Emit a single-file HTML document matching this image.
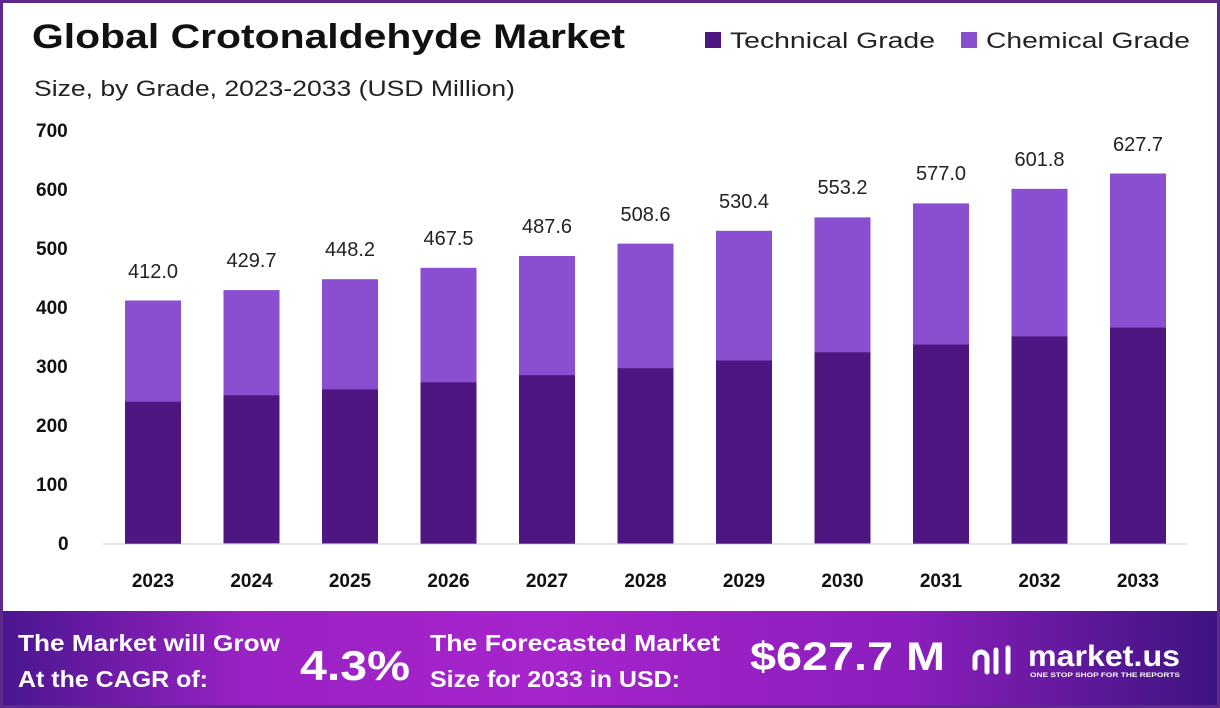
<!DOCTYPE html>
<html><head><meta charset="utf-8"><style>
html,body{margin:0;padding:0;background:#fff}
svg{display:block}
text{font-family:"Liberation Sans",sans-serif}
</style></head><body>
<svg width="1220" height="708" viewBox="0 0 1220 708" xmlns="http://www.w3.org/2000/svg">
<defs>
<linearGradient id="bg" x1="0" x2="1" y1="0" y2="0">
<stop offset="0" stop-color="#4a1690"/>
<stop offset="0.2" stop-color="#9a22c4"/>
<stop offset="0.45" stop-color="#a624cc"/>
<stop offset="0.75" stop-color="#8a1ebc"/>
<stop offset="1" stop-color="#3e1480"/>
</linearGradient>
</defs>
<rect x="1.5" y="1.5" width="1217" height="705" fill="#fff" stroke="#5b2a8c" stroke-width="3"/>
<text x="32" y="48" font-size="34" font-weight="bold" fill="#111" textLength="593" lengthAdjust="spacingAndGlyphs">Global Crotonaldehyde Market</text>
<text x="34" y="96" font-size="22" fill="#222" textLength="481" lengthAdjust="spacingAndGlyphs">Size, by Grade, 2023-2033 (USD Million)</text>
<rect x="705" y="32" width="16" height="16" fill="#4e1680"/>
<text x="730" y="48" font-size="22" fill="#222" textLength="205" lengthAdjust="spacingAndGlyphs">Technical Grade</text>
<rect x="961" y="32" width="16" height="16" fill="#8a4ed0"/>
<text x="986" y="48" font-size="22" fill="#222" textLength="204" lengthAdjust="spacingAndGlyphs">Chemical Grade</text>
<g font-size="19" font-weight="bold" fill="#111">
<text x="36" y="137">700</text><text x="36" y="196">600</text><text x="36" y="255">500</text>
<text x="36" y="314">400</text><text x="36" y="373">300</text><text x="36" y="432">200</text>
<text x="36" y="491">100</text><text x="58" y="550">0</text>
</g>
<line x1="103" y1="544" x2="1187" y2="544" stroke="#ccc" stroke-width="1"/>
<g fill="#8a4ed0">
<rect x="125" y="300.5" width="56" height="243"/>
<rect x="223.5" y="290.1" width="56" height="253"/>
<rect x="322" y="279.2" width="56" height="264"/>
<rect x="420.5" y="267.8" width="56" height="276"/>
<rect x="519" y="256" width="56" height="288"/>
<rect x="617.5" y="243.6" width="56" height="300"/>
<rect x="716" y="230.8" width="56" height="313"/>
<rect x="814.5" y="217.4" width="56" height="326"/>
<rect x="913" y="203.4" width="56" height="340"/>
<rect x="1011.5" y="188.8" width="56" height="355"/>
<rect x="1110" y="173.5" width="56" height="370"/>
</g>
<g fill="#4e1680">
<rect x="125" y="401.7" width="56" height="142"/>
<rect x="223.5" y="395.3" width="56" height="148"/>
<rect x="322" y="389.4" width="56" height="154"/>
<rect x="420.5" y="382.3" width="56" height="161"/>
<rect x="519" y="375.2" width="56" height="168"/>
<rect x="617.5" y="368.2" width="56" height="175"/>
<rect x="716" y="360.5" width="56" height="183"/>
<rect x="814.5" y="352.3" width="56" height="191"/>
<rect x="913" y="344.6" width="56" height="199"/>
<rect x="1011.5" y="336.4" width="56" height="207"/>
<rect x="1110" y="327.6" width="56" height="216"/>
</g>
<g font-size="20" fill="#222" text-anchor="middle">
<text x="153" y="278">412.0</text>
<text x="251.5" y="267">429.7</text>
<text x="350" y="256">448.2</text>
<text x="448.5" y="245">467.5</text>
<text x="547" y="233">487.6</text>
<text x="645.5" y="221">508.6</text>
<text x="744" y="208">530.4</text>
<text x="842.5" y="194">553.2</text>
<text x="941" y="180">577.0</text>
<text x="1039.5" y="166">601.8</text>
<text x="1138" y="151">627.7</text>
</g>
<g font-size="19" font-weight="bold" fill="#111" text-anchor="middle">
<text x="153" y="587">2023</text><text x="251.5" y="587">2024</text><text x="350" y="587">2025</text>
<text x="448.5" y="587">2026</text><text x="547" y="587">2027</text><text x="645.5" y="587">2028</text>
<text x="744" y="587">2029</text><text x="842.5" y="587">2030</text><text x="941" y="587">2031</text>
<text x="1039.5" y="587">2032</text><text x="1138" y="587">2033</text>
</g>
<rect x="3" y="611" width="1214" height="94" fill="url(#bg)"/>
<g fill="#fff" font-weight="bold">
<text x="18" y="651" font-size="23" textLength="262" lengthAdjust="spacingAndGlyphs">The Market will Grow</text>
<text x="18" y="687" font-size="23" textLength="190" lengthAdjust="spacingAndGlyphs">At the CAGR of:</text>
<text x="300" y="680" font-size="42" textLength="110" lengthAdjust="spacingAndGlyphs">4.3%</text>
<text x="430" y="651" font-size="23" textLength="290" lengthAdjust="spacingAndGlyphs">The Forecasted Market</text>
<text x="430" y="687" font-size="23" textLength="250" lengthAdjust="spacingAndGlyphs">Size for 2033 in USD:</text>
<text x="750" y="670" font-size="40" textLength="195" lengthAdjust="spacingAndGlyphs">$627.7 M</text>
<text x="1028" y="666" font-size="30" textLength="152" lengthAdjust="spacingAndGlyphs">market.us</text>
<text x="1030" y="677" font-size="6.5" textLength="150" lengthAdjust="spacingAndGlyphs">ONE STOP SHOP FOR THE REPORTS</text>
</g>
<g fill="none" stroke="#fff" stroke-width="5" stroke-linecap="round">
<path d="M975 668 V658 a6 6 0 0 1 12 0 V672"/>
<path d="M996 650 V672"/>
<path d="M1008 648 V672"/>
</g>
</svg>
</body></html>
